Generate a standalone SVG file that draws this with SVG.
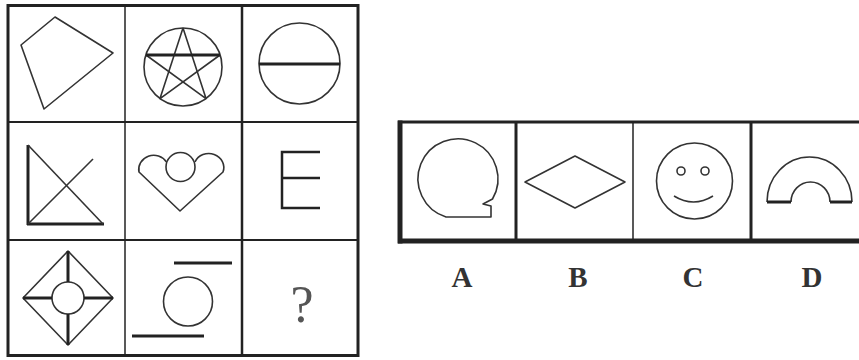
<svg xmlns="http://www.w3.org/2000/svg" width="859" height="360" viewBox="0 0 859 360">
<style>
.b{fill:none;stroke:#222;}
.s{fill:none;stroke:#333;stroke-width:1.6;stroke-linejoin:round;}
.t{fill:none;stroke:#222;stroke-width:3;}
.lbl{font-family:"Liberation Serif",serif;font-weight:bold;font-size:29px;fill:#333;text-anchor:middle;}
</style>
<rect width="859" height="360" fill="#fff"/>
<g id="grid">
<rect class="b" x="8" y="5.5" width="350" height="350" stroke-width="3"/>
<line class="b" x1="125" y1="5.5" x2="125" y2="355.5" stroke-width="1.5"/>
<line class="b" x1="242" y1="5.5" x2="242" y2="355.5" stroke-width="2.5"/>
<line class="b" x1="8" y1="122" x2="358" y2="122" stroke-width="2"/>
<line class="b" x1="8" y1="240" x2="358" y2="240" stroke-width="2"/>
</g>
<g id="cell11"><polygon class="s" points="55,17 113,53 44,109 21,45"/></g>
<g id="cell12">
<circle class="s" cx="183" cy="67" r="39"/>
<polyline class="s" points="183,28 206,98.6 146,55"/>
<polyline class="s" points="220,55 160,98.6 183,28"/>
<line class="t" x1="146" y1="55" x2="220" y2="55"/>
</g>
<g id="cell13">
<circle class="s" cx="299.5" cy="63.5" r="40.5"/>
<line class="t" x1="259" y1="64" x2="340" y2="64"/>
</g>
<g id="cell21">
<line class="t" x1="28" y1="145" x2="28" y2="225"/>
<line class="t" x1="27" y1="224" x2="104" y2="224"/>
<line class="s" x1="28" y1="145" x2="103" y2="224"/>
<line class="s" x1="93" y1="159" x2="28" y2="224"/>
</g>
<g id="cell22">
<circle class="s" cx="180.5" cy="167" r="14.5"/>
<path class="s" d="M166.5,162 A15,14 0 0 0 139,172 L180,211 L223,172 A15,14 0 0 0 195,162"/>
</g>
<g id="cell23"><path class="b" stroke-width="2.5" d="M320,152 H282 V208 H320 M282,178 H320"/></g>
<g id="cell31">
<polygon class="s" points="68,251 113,298 68,345 23,298"/>
<circle class="s" cx="68" cy="298" r="16"/>
<path class="t" d="M68,251 V282 M68,314 V345 M23,298 H52 M84,298 H113"/>
</g>
<g id="cell32">
<line class="t" x1="174" y1="263" x2="232" y2="263"/>
<circle class="s" cx="188" cy="301.5" r="24.5"/>
<line class="t" x1="132" y1="336" x2="204" y2="336"/>
</g>
<g id="cell33"><text x="302" y="322" font-family="Liberation Serif,serif" font-size="52" fill="#555" text-anchor="middle">?</text></g>
<g id="options">
<line class="b" x1="398" y1="122" x2="859" y2="122" stroke-width="3"/>
<line class="b" x1="398" y1="241" x2="859" y2="241" stroke-width="5"/>
<line class="b" x1="400" y1="120.5" x2="400" y2="243.5" stroke-width="5"/>
<line class="b" x1="516" y1="122" x2="516" y2="241" stroke-width="3"/>
<line class="b" x1="633" y1="122" x2="633" y2="241" stroke-width="1.5"/>
<line class="b" x1="751" y1="122" x2="751" y2="241" stroke-width="3"/>
</g>
<g id="optA"><path class="s" d="M446,217 A40,40 0 1 1 492.5,199 L483,204 L491,206 L491,217 Z"/></g>
<g id="optB"><polygon class="s" points="525,182 575,156 625,182 575,208"/></g>
<g id="optC">
<circle class="s" cx="694.5" cy="181" r="38"/>
<circle class="s" cx="681" cy="171" r="4"/>
<circle class="s" cx="705" cy="171" r="4"/>
<path class="s" d="M674,196 Q693.5,208 713,196"/>
</g>
<g id="optD">
<path class="s" d="M767,202 A42.5,45 0 0 1 852,202 M791,202 A19.5,20 0 0 1 830,202"/>
<path class="t" d="M767,202 H791 M830,202 H852"/>
</g>
<g id="labels">
<text class="lbl" x="462" y="287">A</text>
<text class="lbl" x="578" y="287">B</text>
<text class="lbl" x="693" y="287">C</text>
<text class="lbl" x="812" y="287">D</text>
</g>
</svg>
